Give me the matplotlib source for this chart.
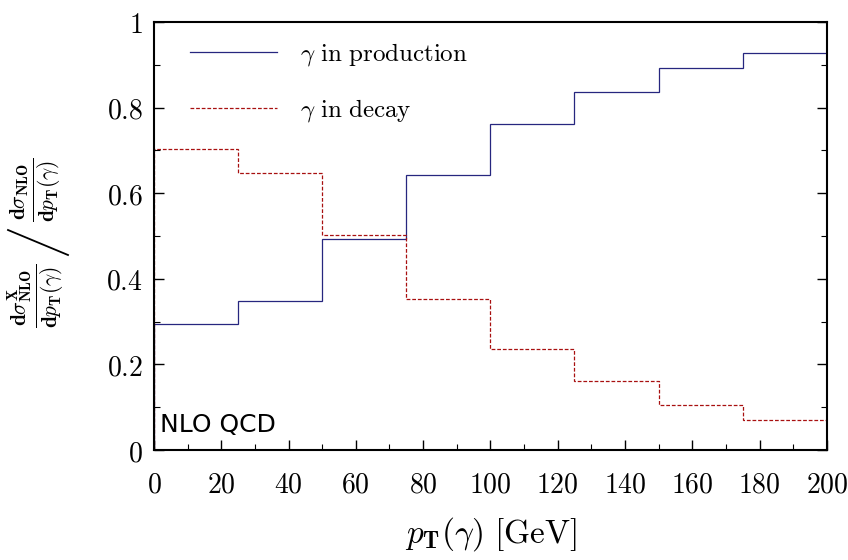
import matplotlib
matplotlib.use("Agg")
import matplotlib.pyplot as plt
from matplotlib.lines import Line2D
from matplotlib.ticker import MultipleLocator, FuncFormatter

plt.rcParams['mathtext.fontset'] = 'cm'
plt.rcParams['font.family'] = ['DejaVu Sans']

bin_edges = [0, 25, 50, 75, 100, 125, 150, 175, 200]
production = [0.294, 0.349, 0.494, 0.643, 0.762, 0.837, 0.893, 0.928]
decay = [0.703, 0.648, 0.503, 0.353, 0.236, 0.161, 0.105, 0.069]
x_ticks = [0, 20, 40, 60, 80, 100, 120, 140, 160, 180, 200]
y_ticks = [0, 0.2, 0.4, 0.6, 0.8, 1.0]

fig = plt.figure(figsize=(8.48, 5.6), dpi=100)
ax = fig.add_axes([0.1816, 0.1964, 0.7934, 0.7643])

ax.stairs(production, bin_edges, color='#26267f', lw=0.9,
          label=r'$\gamma\ \mathrm{in\ production}$')
ax.stairs(decay, bin_edges, color='#a81010', lw=0.9, ls=(0, (3, 1.5)),
          label=r'$\gamma\ \mathrm{in\ decay}$')

ax.set_xlim(0, 200)
ax.set_ylim(0, 1)
ax.set_xticks(x_ticks)
ax.set_yticks(y_ticks)
ax.xaxis.set_minor_locator(MultipleLocator(10))
ax.yaxis.set_minor_locator(MultipleLocator(0.1))

def yfmt(v, pos):
    if abs(v) < 1e-9:
        return r'$0$'
    if abs(v - 1) < 1e-9:
        return r'$1$'
    return r'$%.1f$' % v

ax.yaxis.set_major_formatter(FuncFormatter(yfmt))
ax.xaxis.set_major_formatter(FuncFormatter(lambda v, p: r'$%d$' % v))

ax.tick_params(axis='both', which='major', direction='in', length=7, width=1.0, labelsize=20)
ax.tick_params(axis='both', which='minor', direction='in', length=4.3, width=0.8)
ax.tick_params(axis='y', which='both', right=True)
ax.tick_params(axis='x', which='major', pad=15)
ax.tick_params(axis='y', which='major', pad=8)
for s in ax.spines.values():
    s.set_linewidth(1.5)

ax.set_xlabel(r'$p_{\mathbf{T}}(\gamma)\ [\mathrm{GeV}]$', fontsize=24, labelpad=12)

# y label: two fractions separated by a large slash
frac1 = r'$\frac{\mathbf{d}\sigma^{\mathbf{X}}_{\mathbf{NLO}}}{\mathbf{d}p_{\mathbf{T}}(\gamma)}$'
frac2 = r'$\frac{\mathbf{d}\sigma_{\mathbf{NLO}}}{\mathbf{d}p_{\mathbf{T}}(\gamma)}$'
fig.text(36 / 848, 1 - 296 / 560, frac1, rotation=90, ha='center', va='center', fontsize=22)
fig.text(36 / 848, 1 - 190 / 560, frac2, rotation=90, ha='center', va='center', fontsize=22)
fig.add_artist(Line2D([8 / 848, 68 / 848], [1 - 230 / 560, 1 - 255 / 560],
                      transform=fig.transFigure, color='black', lw=1.3))

leg = ax.legend(loc='upper left', bbox_to_anchor=(0.053, 0.955), frameon=False,
                borderaxespad=0, borderpad=0,
                fontsize=18, handlelength=3.5, handletextpad=0.9, labelspacing=1.15)

ax.text(0.009, 0.03, 'NLO QCD', transform=ax.transAxes, fontsize=18, ha='left', va='bottom')

fig.savefig('out.png', dpi=100)
